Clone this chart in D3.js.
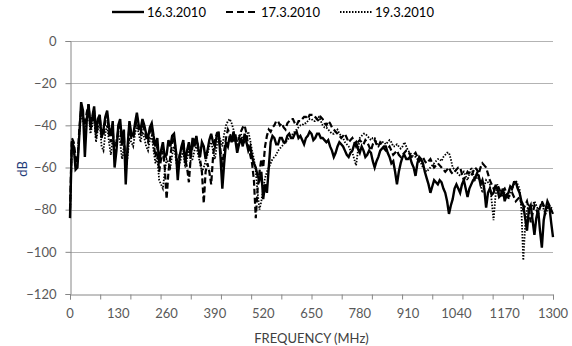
<!DOCTYPE html>
<html>
<head>
<meta charset="utf-8">
<script src="https://cdn.jsdelivr.net/npm/d3@7"></script>
<style>
  html, body { margin: 0; padding: 0; background: #fff; }
  svg { display: block; }
  text { font-family: Lato, "Open Sans", sans-serif; }
</style>
</head>
<body>
<svg id="chart" width="572" height="346"></svg>
<script>
// Frequency sweep 0..1300 MHz in 5 MHz steps
const frequencies = d3.range(0, 1301, 5);

const seriesNames = ["16.3.2010", "17.3.2010", "19.3.2010"];

// Received level (dB) per measurement day, one row per 100 MHz
const level_16_3 = [
  -84,-48,-50,-61,-60,-45,-29,-33,-55,-38,-30,-40,-36,-31,-44,-37,-35,-46,-42,-36,
  -33,-41,-45,-38,-60,-52,-40,-37,-48,-42,-68,-50,-38,-44,-45,-39,-34,-40,-42,-37,
  -40,-44,-46,-41,-39,-45,-50,-46,-58,-52,-48,-55,-54,-47,-50,-45,-44,-52,-66,-55,
  -50,-47,-58,-52,-48,-55,-46,-50,-45,-51,-55,-48,-50,-56,-52,-47,-44,-48,-50,-45,
  -43,-55,-70,-58,-48,-50,-45,-48,-43,-47,-53,-49,-46,-50,-44,-48,-52,-50,-55,-58,
  -60,-64,-66,-62,-75,-68,-72,-60,-48,-45,-46,-49,-49,-46,-46,-48,-48,-45,-44,-46,
  -46,-44,-43,-46,-45,-47,-49,-46,-45,-43,-44,-47,-46,-44,-44,-46,-46,-47,-48,-47,
  -50,-52,-55,-53,-50,-48,-49,-50,-52,-54,-55,-53,-52,-49,-48,-51,-53,-50,-52,-55,
  -54,-52,-53,-57,-60,-57,-55,-52,-51,-50,-50,-53,-55,-58,-57,-62,-68,-62,-58,-55,
  -54,-56,-56,-55,-58,-60,-64,-58,-55,-56,-58,-62,-65,-68,-72,-69,-66,-67,-68,-66,
  -67,-70,-72,-76,-82,-78,-75,-70,-68,-70,-72,-68,-66,-70,-74,-70,-68,-66,-65,-63,
  -64,-68,-66,-70,-79,-72,-70,-73,-72,-69,-70,-74,-73,-70,-76,-73,-72,-69,-70,-67,
  -67,-70,-72,-76,-78,-84,-90,-80,-78,-85,-92,-84,-80,-90,-98,-85,-80,-76,-78,-86,
  -93
];

const level_17_3 = [
  -80,-46,-48,-55,-58,-42,-32,-36,-40,-34,-30,-42,-38,-33,-46,-40,-36,-44,-45,-38,
  -35,-44,-48,-42,-55,-48,-42,-40,-50,-45,-60,-52,-40,-46,-46,-42,-36,-42,-44,-40,
  -42,-46,-48,-43,-41,-48,-55,-50,-62,-56,-52,-60,-75,-62,-55,-48,-46,-52,-60,-54,
  -52,-48,-56,-60,-67,-55,-50,-47,-46,-50,-56,-62,-77,-62,-58,-62,-68,-55,-47,-44,
  -45,-52,-60,-52,-46,-42,-44,-46,-48,-44,-50,-46,-43,-41,-40,-44,-50,-54,-58,-66,
  -84,-70,-62,-56,-60,-50,-45,-42,-43,-41,-40,-38,-38,-40,-39,-41,-42,-39,-38,-37,
  -37,-39,-40,-38,-38,-37,-36,-36,-37,-35,-35,-35,-36,-37,-38,-36,-37,-39,-40,-38,
  -39,-41,-42,-43,-44,-45,-46,-45,-44,-46,-48,-47,-46,-48,-50,-48,-47,-48,-49,-47,
  -48,-50,-52,-49,-47,-49,-50,-48,-49,-51,-52,-51,-50,-52,-54,-53,-52,-54,-55,-54,
  -53,-52,-52,-54,-55,-54,-53,-55,-57,-56,-55,-57,-58,-57,-56,-58,-60,-59,-58,-59,
  -60,-61,-62,-61,-60,-62,-63,-62,-61,-60,-60,-63,-66,-64,-62,-63,-64,-62,-60,-61,
  -63,-60,-58,-59,-60,-63,-66,-68,-70,-69,-68,-70,-72,-71,-70,-72,-74,-73,-72,-74,
  -76,-75,-74,-77,-80,-78,-76,-80,-86,-82,-78,-80,-82,-79,-76,-78,-80,-79,-78,-80,
  -82
];

const level_19_3 = [
  -82,-50,-52,-58,-56,-44,-34,-38,-42,-36,-32,-44,-40,-36,-48,-42,-38,-50,-52,-44,
  -40,-48,-54,-46,-50,-47,-44,-48,-56,-50,-62,-55,-46,-48,-50,-44,-40,-44,-48,-43,
  -46,-50,-52,-47,-45,-52,-58,-55,-66,-68,-70,-62,-56,-58,-60,-54,-50,-56,-62,-58,
  -55,-52,-60,-56,-52,-57,-56,-52,-50,-54,-58,-62,-60,-57,-54,-50,-48,-52,-56,-50,
  -45,-47,-50,-44,-40,-38,-37,-39,-42,-46,-48,-45,-44,-47,-48,-45,-43,-47,-52,-56,
  -62,-72,-80,-76,-70,-65,-62,-60,-58,-56,-55,-54,-52,-51,-50,-49,-48,-47,-46,-45,
  -44,-43,-42,-41,-40,-40,-39,-39,-38,-37,-37,-38,-38,-37,-36,-38,-40,-41,-41,-42,
  -43,-44,-44,-43,-42,-44,-45,-46,-48,-49,-50,-52,-53,-56,-59,-52,-46,-45,-44,-44,
  -45,-46,-47,-46,-46,-48,-50,-49,-48,-48,-49,-48,-47,-48,-50,-50,-49,-50,-51,-50,
  -48,-50,-52,-53,-54,-55,-55,-56,-57,-58,-60,-61,-62,-61,-60,-59,-58,-57,-56,-56,
  -57,-55,-54,-53,-53,-56,-60,-61,-62,-63,-64,-63,-62,-64,-66,-63,-60,-63,-66,-65,
  -64,-68,-72,-69,-66,-67,-68,-76,-85,-74,-68,-71,-74,-73,-72,-74,-75,-72,-70,-68,
  -66,-68,-70,-80,-104,-88,-80,-78,-80,-78,-76,-78,-80,-79,-77,-80,-82,-80,-78,-79,
  -80
];

const yTicks = [0, -20, -40, -60, -80, -100, -120];
const xTickLabels = [0, 130, 260, 390, 520, 650, 780, 910, 1040, 1170, 1300];

const svg = d3.select("#chart");
const margin = { left: 70, right: 19, top: 41, bottom: 52 };
const W = 572, H = 346;

const x = d3.scaleLinear().domain([0, 1300]).range([margin.left, W - margin.right]);
const y = d3.scaleLinear().domain([-120, 0]).range([H - margin.bottom, margin.top]);

// horizontal gridlines
svg.append("g").selectAll("line")
  .data(yTicks.filter(d => d !== -120))
  .join("line")
  .attr("x1", x(0)).attr("x2", x(1300))
  .attr("y1", d => Math.round(y(d)) + 0.5).attr("y2", d => Math.round(y(d)) + 0.5)
  .attr("stroke", "#b3b3b3").attr("stroke-width", 1);

// y axis
const yAxis = svg.append("g")
  .attr("transform", `translate(${x(0) + 0.5},0)`)
  .call(d3.axisLeft(y).tickValues(yTicks).tickSize(5).tickPadding(9).tickFormat(d3.format("d")));
yAxis.select(".domain").attr("stroke", "#868686");
yAxis.selectAll(".tick line").attr("stroke", "#868686");
yAxis.selectAll(".tick text").attr("fill", "#595959").style("font-size", "13px")
  .style("font-family", "Lato, 'Open Sans', sans-serif");

// x axis: tick marks every 1/16 of the span, labels every 130 MHz
const xAxis = svg.append("g")
  .attr("transform", `translate(0,${Math.round(y(-120)) + 0.5})`)
  .call(d3.axisBottom(x).tickValues(d3.range(0, 17).map(i => i * 1300 / 16)).tickSize(5).tickFormat(""));
xAxis.select(".domain").attr("stroke", "#868686");
xAxis.selectAll(".tick line").attr("stroke", "#868686");

svg.append("g").selectAll("text")
  .data(xTickLabels)
  .join("text")
  .attr("x", d => x(d)).attr("y", 318)
  .attr("text-anchor", "middle")
  .attr("fill", "#595959").style("font-size", "13px")
  .text(d => d);

// axis titles
svg.append("text")
  .attr("x", x(650)).attr("y", 343)
  .attr("text-anchor", "middle")
  .attr("fill", "#404040").style("font-size", "13px")
  .text("FREQUENCY (MHz)");

svg.append("text")
  .attr("transform", `translate(27,169) rotate(-90)`)
  .attr("text-anchor", "middle")
  .attr("fill", "#1f3b78").style("font-size", "13px")
  .text("dB");

// series lines
const styles = [
  { dash: null, width: 2.4 },
  { dash: "6,3", width: 2.2 },
  { dash: "1.5,1.5", width: 1.8 }
];
const seriesData = [level_16_3, level_17_3, level_19_3];

const line = d3.line()
  .x((d, i) => x(frequencies[i]))
  .y(d => y(d));

// draw the later days first so the solid trace sits on top
[2, 1, 0].forEach(k => {
  svg.append("path")
    .datum(seriesData[k])
    .attr("d", line)
    .attr("fill", "none")
    .attr("stroke", "#000")
    .attr("stroke-width", styles[k].width)
    .attr("stroke-linejoin", "miter")
    .attr("stroke-dasharray", styles[k].dash);
});

// legend
const legendPos = [112, 226, 340];
const legend = svg.append("g");
seriesNames.forEach((name, k) => {
  legend.append("line")
    .attr("x1", legendPos[k]).attr("x2", legendPos[k] + 32)
    .attr("y1", 12).attr("y2", 12)
    .attr("stroke", "#000").attr("stroke-width", styles[k].width)
    .attr("stroke-dasharray", k === 1 ? "7,4" : styles[k].dash);
  legend.append("text")
    .attr("x", legendPos[k] + 35).attr("y", 17)
    .attr("fill", "#000").style("font-size", "13px")
    .text(name);
});
</script>
</body>
</html>
